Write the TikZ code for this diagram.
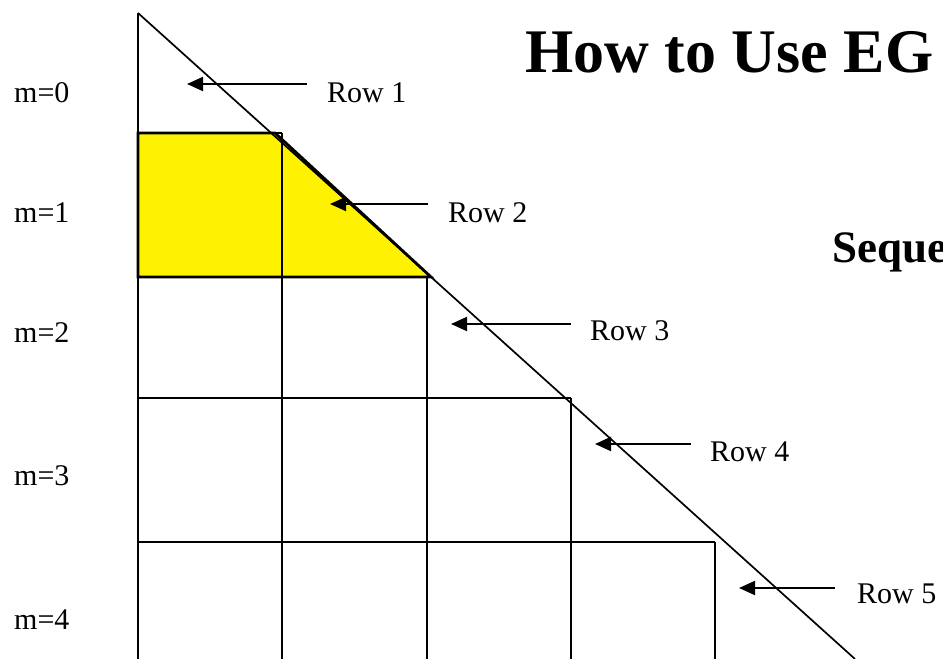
\documentclass[tikz,border=0pt]{standalone}
\usepackage{fontspec}
\setmainfont{Liberation Serif}
\usetikzlibrary{arrows.meta}
\tikzset{
  grid/.style={line width=1.7pt, black},
  hilite/.style={fill=yellow, draw=black, line width=2.8pt, line join=miter},
  lbl/.style={anchor=base west, inner sep=0pt, font=\fontsize{30}{32}\selectfont},
  arr/.style={line width=2pt, -{Triangle[length=16pt,width=14pt]}},
  ttl/.style={anchor=base west, inner sep=0pt, font=\fontsize{62}{66}\selectfont\bfseries},
  sub/.style={anchor=base west, inner sep=0pt, font=\fontsize{45}{50}\selectfont\bfseries}
}
\begin{document}
\begin{tikzpicture}[x=1pt,y=-1pt]
\useasboundingbox (0,0) rectangle (943,659);
\begin{scope}
\clip (0,0) rectangle (943,659);
% highlighted cell of row 2
\draw[hilite] (138,133) -- (275,133) -- (431,277) -- (138,277) -- cycle;
% grid
\draw[grid] (138,13) -- (138,659);
\draw[grid] (282,133) -- (282,659);
\draw[grid] (427,277) -- (427,659);
\draw[grid] (571,398) -- (571,659);
\draw[grid] (715,542) -- (715,659);
\draw[grid] (138,133) -- (282,133);
\draw[grid] (138,277) -- (427,277);
\draw[grid] (138,398) -- (571,398);
\draw[grid] (138,542) -- (715,542);
% diagonal
\coordinate (dtop) at (138,13);
\coordinate (dbot) at (855,659);
\draw[grid] (dtop) -- (dbot);
% m labels
\node[lbl] (m0) at (14,102) {m=0};
\node[lbl] (m1) at (14,222) {m=1};
\node[lbl] (m2) at (14,342) {m=2};
\node[lbl] (m3) at (14,485) {m=3};
\node[lbl] (m4) at (14,629) {m=4};
% row labels
\node[lbl] (r1) at (327,102) {Row 1};
\node[lbl] (r2) at (448,222) {Row 2};
\node[lbl] (r3) at (590,340) {Row 3};
\node[lbl] (r4) at (710,461) {Row 4};
\node[lbl] (r5) at (857,603) {Row 5};
% arrows
\coordinate (t1) at (307,84);  \coordinate (h1) at (187,84);
\coordinate (t2) at (428,204); \coordinate (h2) at (330,204);
\coordinate (t3) at (571,324); \coordinate (h3) at (451,324);
\coordinate (t4) at (691,444); \coordinate (h4) at (595,444);
\coordinate (t5) at (835,588); \coordinate (h5) at (739,588);
\draw[arr] (t1) -- (h1);
\draw[arr] (t2) -- (h2);
\draw[arr] (t3) -- (h3);
\draw[arr] (t4) -- (h4);
\draw[arr] (t5) -- (h5);
% titles
\node[ttl] (title) at (525,72) {How to Use EG};
\node[sub] (seq) at (832,262) {Seque};
\end{scope}
\end{tikzpicture}
\end{document}
